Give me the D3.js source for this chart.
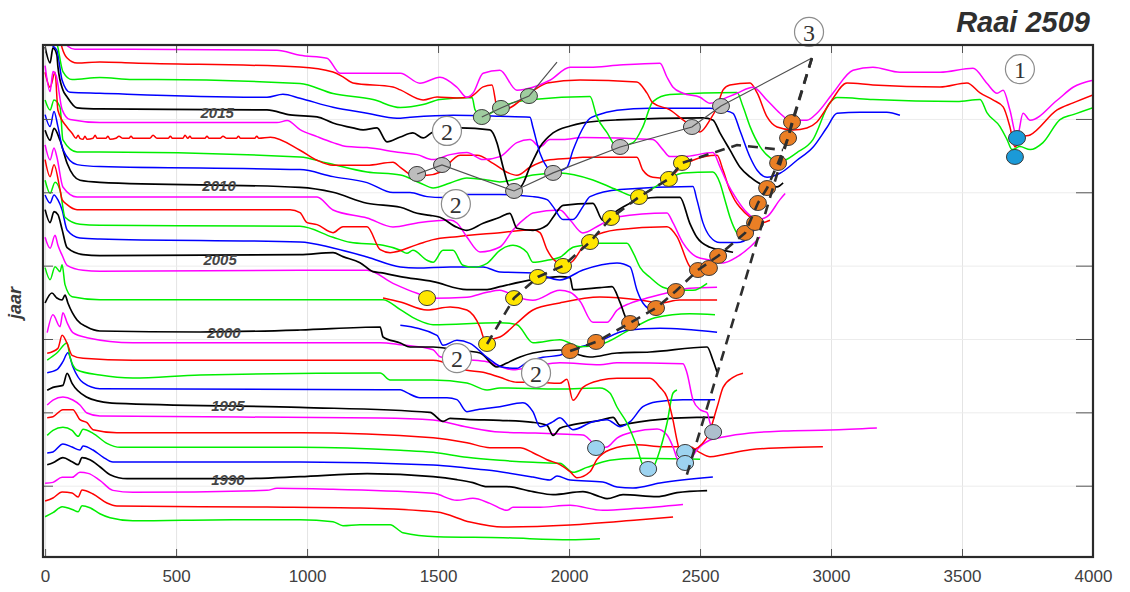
<!DOCTYPE html>
<html>
<head>
<meta charset="utf-8">
<script src="https://cdn.jsdelivr.net/npm/d3@7"></script>
<style>
  body { margin: 0; background: #fff; }
  svg { display: block; }
</style>
</head>
<body>
<svg id="chart" width="1130" height="592"></svg>
<script>
// Cross-shore profiles of transect 2509, one line per survey year.
// Each point: [distance along transect (m), relative bed level (m)].
const p2019 = [[0,28],[38,20],[65,12.5],[87,7],[114,5.5],[335,5.5],[885,5],[973,2.5],[1076,1],[1126,-6.5],[1229,-6.5],[1356,-6.5],[1431,-11.5],[1507,-8.5],[1572,-13.5],[1610,-18.5],[1633,-16.5],[1672,-6.5],[1736,-5],[1801,-15],[1862,-13.5],[1927,-10],[2004,-3.5],[2080,-3.5],[2183,-2.5],[2347,-1.5],[2374,-8.5],[2397,-13.5],[2435,-16.5],[2500,-18.5],[2538,-21.5],[2576,-20],[2641,-16.5],[2702,-13.5],[2756,-20],[2805,-26.5],[2843,-30],[2908,-30],[2946,-26.5],[3007,-16.5],[3084,-5],[3160,-3.5],[3263,-6],[3416,-6],[3542,-4],[3595,-11.5],[3634,-16.5],[3657,-15],[3683,-25],[3710,-38.5],[3733,-26.5],[3760,-30],[3863,-20],[3924,-13.5],[4000,-10]];
const p2018 = [[0,30],[49,22.5],[65,13.5],[84,8.5],[122,6],[209,6.5],[335,6],[973,4],[1099,1.5],[1137,-1],[1175,-4],[1328,-6],[1356,-7.5],[1443,-12.5],[1496,-11],[1572,-11.5],[1622,-11],[1672,-6],[1706,-5],[1725,-16],[1748,-17.5],[1851,-9],[1916,-4],[2042,-2.5],[2259,-3.5],[2297,-9],[2320,-14],[2385,-17.5],[2435,-22.5],[2461,-25],[2500,-28.5],[2538,-22.5],[2565,-16],[2588,-7.5],[2614,-5],[2691,-4],[2718,-9],[2756,-21],[2794,-26],[2855,-27.5],[2908,-26.5],[2946,-23.5],[2996,-14],[3061,-4],[3160,-5],[3416,-6],[3519,-4],[3569,-9],[3618,-12.5],[3657,-16],[3683,-26],[3702,-36],[3729,-31],[3760,-30],[3863,-17.5],[3924,-14],[4000,-10]];
const p2017 = [[0,32],[38,27.5],[49,21],[68,9],[103,5],[209,6],[335,5],[427,5],[973,3],[1099,-2],[1252,-5],[1356,-9],[1443,-7.5],[1507,-5],[1630,-4],[1641,-10],[1667,-13.5],[1725,-10],[1786,-6.5],[1862,-5],[2080,-3.5],[2106,-13.5],[2145,-21.5],[2183,-28.5],[2244,-26.5],[2282,-18.5],[2320,-6],[2385,-2.5],[2641,-1.5],[2664,-8.5],[2691,-18.5],[2729,-28.5],[2767,-34],[2805,-36],[2870,-31.5],[2931,-25],[2996,-6.5],[3023,-4],[3160,-5],[3481,-6],[3569,-5],[3595,-11.5],[3645,-18.5],[3672,-25],[3691,-30],[3721,-28.5],[3760,-30],[3809,-26.5],[3874,-15],[3924,-12.5],[4000,-9]];
const p2016 = [[0,32],[26,29.5],[45,27],[65,12],[95,6],[209,5.5],[847,3.5],[908,5],[973,3],[1099,-1.5],[1229,-4.5],[1343,-7],[1393,-6.5],[1557,-5.5],[1736,-6],[1851,-6.5],[1862,-11.5],[1889,-24.5],[1916,-31.5],[1939,-34],[1992,-31.5],[2015,-23],[2080,-7],[2106,-5.5],[2183,-3],[2309,-2],[2538,-2],[2588,-3],[2626,-4.5],[2652,-13],[2691,-26.5],[2718,-33],[2756,-36.5],[2805,-34.5],[2870,-28],[2931,-21.5],[2985,-11.5],[3023,-4.5],[3110,-4],[3213,-4],[3263,-5.5]];
const p2015 = [[0,36],[19,28],[30,35.5],[45,32],[49,26],[68,14.5],[84,11],[122,5.5],[209,5],[847,4.5],[935,2],[1038,1],[1099,-2],[1175,-4.5],[1214,-5.5],[1267,-4.5],[1305,-11.5],[1356,-9],[1404,-7],[1443,-9.5],[1481,-6.5],[1584,-4.5],[1698,-5.5],[1725,-12],[1748,-24],[1774,-34],[1813,-34],[1851,-24],[1889,-14],[1939,-7],[2004,-3.5],[2053,-2],[2183,-0.5],[2511,0.5],[2549,-0.5],[2576,-7],[2614,-15.5],[2652,-24],[2691,-29],[2740,-33],[2794,-34],[2817,-32]];
const p2014 = [[0,34],[19,21],[30,31],[42,29],[65,12],[95,7],[209,5.5],[885,5.5],[924,6.5],[973,2],[1038,-1.5],[1099,-4.5],[1152,-6.5],[1229,-7],[1356,-9.5],[1420,-10.5],[1481,-13],[1546,-10.5],[1610,-9.5],[1672,-13],[1736,-11.5],[1801,-4.5],[1851,-3],[1889,-6.5],[1927,-3],[1977,-3],[2053,-2],[2320,-3],[2358,-8],[2385,-11.5],[2435,-11.5],[2549,-9.5],[2576,-16.5],[2603,-24.5],[2641,-33],[2679,-39.5],[2718,-43],[2756,-41.5],[2805,-33],[2825,-30]];
const p2013 = [[0,38],[19,30.5],[38,38],[49,19],[84,10.5],[103,7.5],[118,5],[126,6.5],[133,5],[145,4.5],[152,6],[160,4.5],[183,5],[191,6.5],[198,5],[232,5],[240,6],[248,4.5],[270,5],[282,6],[297,5],[320,5],[328,6],[336,5],[400,5],[412,6.5],[427,5],[470,5],[478,6],[486,5],[526,5],[534,6.5],[545,5],[553,6],[560,5],[610,5],[618,6],[626,5],[668,5],[679,6],[694,5],[730,5],[738,6],[746,5],[800,5],[808,6],[816,5],[860,5.5],[973,-1],[1038,-6],[1099,-8.5],[1229,-8.5],[1328,-7],[1356,-9.5],[1404,-13.5],[1458,-13.5],[1507,-12],[1584,-3.5],[1649,-3.5],[1710,-7.5],[1763,-12],[1801,-13.5],[1851,-9.5],[1916,-6],[2004,-5],[2053,-4.5],[2259,-4.5],[2282,-11],[2320,-14.5],[2374,-15],[2435,-8.5],[2473,-6],[2565,-3.5],[2588,-11],[2614,-21],[2633,-26],[2652,-29.5],[2691,-34.5],[2729,-37.5],[2767,-36]];
const p2012 = [[0,31.5],[19,26.5],[34,31.5],[57,28],[68,11.5],[122,5.5],[209,5.5],[973,3],[1076,0],[1229,-4.5],[1356,-6],[1431,-10],[1481,-12.5],[1546,-10],[1610,-7.5],[1687,-8.5],[1736,-9.5],[1862,-6],[1965,-5],[2091,-8.5],[2183,-13.5],[2259,-17],[2309,-13.5],[2374,-8.5],[2435,-5],[2549,-4.5],[2576,-10],[2595,-18.5],[2614,-27],[2641,-35],[2660,-37]];
const p2011 = [[0,31.5],[19,25.5],[34,33],[49,25.5],[68,14],[122,6.5],[209,5.5],[973,4],[1099,0.5],[1229,-2.5],[1328,-7.5],[1393,-7.5],[1458,-9.5],[1519,-10],[1610,-8.5],[1736,-8.5],[1862,-9.5],[1916,-11],[1939,-14.5],[1977,-21],[2015,-21],[2053,-14.5],[2080,-9.5],[2195,-6],[2473,-4.5],[2488,-11],[2511,-22.5],[2538,-29.5],[2576,-32.5],[2641,-32.5],[2691,-29.5],[2710,-25]];
const p2010 = [[0,31],[19,26],[34,32],[57,26],[84,14.5],[133,6],[209,5],[973,2.5],[1099,0],[1229,-5.5],[1356,-7.5],[1420,-10.5],[1469,-11.5],[1507,-12.5],[1572,-17.5],[1610,-19],[1672,-15.5],[1736,-12.5],[1774,-10.5],[1801,-18],[1862,-19],[1916,-16.5],[1939,-12.5],[1977,-6.5],[2091,-5.5],[2129,-14],[2168,-10.5],[2233,-5.5],[2336,-2.5],[2423,-2.5],[2461,-15.5],[2488,-22.5],[2538,-27.5],[2588,-29],[2626,-30]];
const p2009 = [[0,31],[19,23.5],[34,29.5],[45,25],[68,10],[122,5],[209,5],[1038,5],[1099,-1.5],[1229,-5.5],[1328,-10],[1420,-8],[1546,-6.5],[1572,-8],[1610,-15],[1660,-22.5],[1736,-20],[1786,-11.5],[1839,-5],[1862,-3],[1965,-1.5],[2004,-6.5],[2053,-13],[2118,-9],[2183,-5],[2374,-3],[2397,-8],[2435,-18],[2488,-25],[2538,-26.5],[2588,-28],[2641,-25],[2691,-20],[2729,-15]];
const p2008 = [[0,31],[19,22.5],[34,28.5],[57,16],[65,11],[84,8.5],[122,6],[209,6],[935,6],[973,4.5],[1000,-0.5],[1038,-1.5],[1099,-5.5],[1137,-2.5],[1229,-2.5],[1279,-14],[1317,-15.5],[1420,-11.5],[1481,-9],[1572,-7.5],[1736,-5.5],[1862,-4],[1889,-5.5],[1916,-14],[1954,-20],[2004,-20.5],[2053,-12.5],[2091,-7.5],[2183,-4],[2374,-2.5],[2412,-7.5],[2461,-22.5],[2488,-25],[2519,-23]];
const p2007 = [[0,28],[19,21.5],[38,27],[57,23],[76,9.5],[133,6],[209,5.5],[973,5],[1099,-0.5],[1164,-3],[1290,-4.5],[1356,-7],[1381,-8.5],[1404,-7],[1458,-12],[1481,-13],[1519,-7],[1557,-7],[1595,-14.5],[1633,-15.5],[1687,-13.5],[1736,-7],[1786,-4.5],[1839,-8],[1862,-13],[1916,-12],[1965,-10.5],[2015,-5.5],[2053,-4.5],[2118,-3.5],[2221,-3.5],[2244,-8],[2271,-15.5],[2309,-20.5],[2358,-25.5],[2412,-27],[2473,-27],[2527,-23.5]];
const p2006 = [[0,28],[19,24],[34,28],[49,25.5],[65,20.5],[84,10.5],[133,6.5],[209,6],[973,4.5],[1099,1.5],[1229,-3],[1356,-8],[1420,-8.5],[1546,-8],[1672,-8],[1736,-10.5],[1862,-11],[1965,-14.5],[2053,-9.5],[2183,-6],[2233,-8],[2259,-19.5],[2282,-26],[2320,-29.5],[2347,-28.5]];
const p2005 = [[0,28],[19,21.5],[34,27],[49,25.5],[65,18],[84,9],[145,5.5],[209,5],[973,5.5],[1099,6.5],[1137,4.5],[1202,1.5],[1252,-3],[1279,-3.5],[1356,-5.5],[1481,-8],[1610,-12],[1687,-12],[1736,-10.5],[1862,-7],[1965,-5.5],[2004,-6],[2015,-12],[2118,-11],[2164,-10.5],[2195,-18.5],[2221,-27],[2244,-28.5],[2271,-29.5]];
const p2004 = [[0,21.5],[19,16],[38,22.5],[49,17.5],[65,12.5],[84,7.5],[145,5],[209,4.5],[973,5],[1229,5],[1328,-1.5],[1420,-6.5],[1481,-9],[1610,-8.5],[1687,-6],[1736,-5],[1801,-8.5],[1862,-10],[1965,-5],[2004,-6],[2042,-10.5],[2091,-21],[2145,-21],[2183,-15],[2233,-11.5],[2309,-8.5],[2385,-6],[2461,-4],[2565,-3.5]];
const p2003 = [[1290,-1.5],[1356,-3.5],[1458,-7.5],[1546,-6],[1610,-7.5],[1660,-16],[1679,-22.5],[1736,-21],[1801,-14],[1862,-7.5],[1965,-4],[2118,-1],[2271,-2.5],[2347,-4],[2423,-2.5],[2565,-2.5]];
const p2002 = [[0,21],[19,15],[38,21.5],[57,19],[65,22.5],[76,12.5],[103,6.5],[209,5],[1290,5],[1356,0],[1420,-5],[1481,-7.5],[1736,-6.5],[1801,-7.5],[1862,-16.5],[1965,-15],[2042,-18.5],[2118,-17.5],[2233,-10],[2328,-4],[2461,-2],[2557,-2.5]];
const p2001 = [[1356,-0.5],[1496,-5.5],[1519,-10.5],[1572,-8],[1622,-9.5],[1687,-16.5],[1748,-21.5],[1801,-22],[1839,-19],[1900,-16.5],[1965,-15.5],[2004,-13],[2106,-9],[2221,-3],[2347,-2],[2565,-4]];
const p2000 = [[0,18],[26,23],[45,20.5],[65,19.5],[76,22],[87,18],[122,9.5],[160,6],[209,4],[592,3.5],[973,4.5],[1279,6],[1290,1],[1356,-2],[1393,-4],[1481,-4],[1572,-5.5],[1660,-7],[1725,-14],[1763,-12],[1813,-9],[1862,-7],[1965,-5.5],[2080,-9],[2183,-7],[2309,-6.5],[2527,-4],[2549,-10.5],[2565,-16.5]];
const p1999 = [[8,10.5],[30,19.5],[57,13.5],[68,20.5],[84,15.5],[106,10.5],[160,8],[335,5.5],[1279,5.5],[1356,4.5],[1481,2],[1507,-1.5],[1610,-3],[1687,-4],[1786,-8],[1862,-6.5],[1965,-4.5],[2118,-5.5],[2183,-4.5],[2435,-5],[2450,-9.5],[2473,-23],[2500,-28],[2527,-29.5],[2538,-34.5],[2549,-38]];
const p1998 = [[8,7.5],[49,10],[65,16.5],[84,12.5],[103,6.5],[145,5],[335,4],[1481,4],[1610,-1],[1672,-2],[1736,-4.5],[1801,-7],[1862,-7],[1965,-7.5],[1992,-5.5],[2015,-16],[2053,-9.5],[2118,-6],[2183,-5],[2309,-5],[2347,-9.5],[2374,-14.5],[2397,-26],[2412,-36],[2423,-41],[2461,-41],[2527,-34.5],[2565,-19.5],[2588,-9.5],[2626,-4.5],[2664,-2.5]];
const p1997 = [[8,11.5],[45,15],[84,20],[95,13],[122,6.5],[209,4],[335,2.5],[592,4],[1279,5],[1317,1.5],[1481,1.5],[1610,0],[1687,-3.5],[1736,-2.5],[1965,-3],[2118,-2.5],[2156,-5],[2183,-12],[2221,-20],[2259,-32],[2282,-41],[2302,-42.5],[2320,-42],[2347,-33.5],[2374,-20],[2397,-5],[2412,-3.5]];
const p1996 = [[8,12.5],[45,14],[68,18],[87,22.5],[106,15.5],[145,7.5],[209,4.5],[1279,4],[1356,4],[1381,2.5],[1431,0],[1534,0],[1572,-1],[1610,-7],[1649,-6],[1736,-4.5],[1824,-2.5],[1862,-7],[1889,-14.5],[1939,-12],[1965,-10],[2015,-16],[2091,-12],[2145,-11],[2195,-14.5],[2233,-12],[2282,-4.5],[2336,-2],[2435,-1],[2557,-1]];
const p1995 = [[8,11],[30,12.5],[68,13.5],[84,19.5],[103,14.5],[160,7.5],[209,5.5],[274,4.5],[973,2.5],[1469,0],[1519,-4.5],[1546,-3],[1610,-3.5],[1736,-4],[1862,-5],[1916,-6.5],[1939,-11.5],[1965,-8],[2004,-6.5],[2118,-4],[2168,-2.5],[2195,-6.5],[2233,-5.5],[2309,-4],[2488,-2.5],[2557,-2.5]];
const p1994 = [[8,11],[30,13.5],[68,15],[106,13.5],[133,11],[160,7],[209,5.5],[1279,4.5],[1481,3.5],[1610,0],[1736,-2.5],[1862,-3],[1965,-3.5],[2053,-4],[2080,-6.5],[2106,-10.5],[2145,-10],[2183,-5.5],[2244,-2.5],[2336,-1],[2374,-4],[2397,-10],[2416,-16.5],[2443,-18],[2461,-16.5],[2488,-11.5],[2538,-6.5],[2588,-5],[2691,-3],[2817,-2],[2996,-1.5],[3175,-0.5]];
const p1993 = [[8,12],[30,12.5],[68,16],[106,16],[133,11],[160,9.5],[183,6],[274,4.5],[973,4.5],[1481,2],[1610,-0.5],[1698,-3],[1813,-3],[1862,-5.5],[1916,-9],[1965,-11.5],[2004,-15],[2030,-18],[2080,-15],[2106,-9],[2156,-4],[2259,-1.5],[2358,-2.5],[2461,-2.5],[2500,-5.5],[2538,-7.5],[2588,-6.5],[2691,-4],[2817,-3],[2969,-2.5]];
const p1992 = [[8,10.5],[30,13],[68,14.5],[103,13],[126,10],[145,13.5],[183,11.5],[236,6.5],[286,4.5],[973,4.5],[1356,3],[1481,2],[1610,-0.5],[1736,-2],[1862,-3],[1965,-3.5],[2015,-8],[2068,-5.5],[2156,-2],[2259,-1],[2500,-1.5]];
const p1991 = [[8,9],[30,9.5],[68,13.5],[103,12],[133,10.5],[145,12.5],[183,10.5],[221,7],[259,4.5],[973,4.5],[1481,3],[1610,1.5],[1687,0.5],[1862,-3],[1927,-4.5],[1954,-2.5],[2004,-4.5],[2129,-5.5],[2183,-8],[2244,-8.5],[2347,-6],[2549,-3]];
const p1990 = [[8,10.5],[30,11.5],[68,14],[103,12],[126,10.5],[141,14],[171,13],[209,9.5],[248,5.5],[313,3.5],[718,3.5],[973,4.5],[1229,6],[1481,4.5],[1572,3],[1633,1.5],[1687,-0.5],[1763,-0.5],[1862,-3],[1939,-4.5],[2053,-3],[2118,-5.5],[2145,-6.5],[2206,-4.5],[2336,-5.5],[2412,-3.5],[2527,-2.5]];
const p1989 = [[0,8.5],[30,9],[65,11.5],[103,11.5],[133,14],[164,13.5],[209,10],[259,5],[335,4],[847,5],[885,6],[1099,5.5],[1481,3.5],[1572,0],[1633,1],[1698,-1.5],[1763,-5],[1786,-3.5],[1878,-3.5],[2004,-2.5],[2129,-5],[2259,-4],[2435,-2]];
const p1988 = [[0,7],[30,8.5],[65,11.5],[103,11],[126,9],[141,12.5],[183,10.5],[236,6],[274,4.5],[847,4],[1202,3.5],[1496,1.5],[1622,-3.5],[1748,-6],[2004,-5],[2259,-2.5],[2397,-1]];
const p1987 = [[0,6.5],[30,8.5],[65,11.5],[84,11],[106,10],[126,9],[141,12],[171,11],[209,8],[248,6],[335,4.5],[718,5],[973,5],[1099,4],[1137,2],[1202,2.5],[1317,2.5],[1366,-1.5],[1496,-3.5],[1748,-4],[2004,-5],[2118,-4.5]];

// Marker positions: [distance (m), level on the year axis]
const orangeDots = [[2004,1999.18],[2103,1999.80],[2233,2001.09],[2332,2002.11],[2408,2003.27],[2492,2004.70],[2534,2004.84],[2569,2005.66],[2672,2007.23],[2710,2007.91],[2721,2009.27],[2756,2010.29],[2798,2012.00],[2836,2013.70],[2851,2014.79]];
const yellowDots = [[1458,2002.79],[1687,1999.66],[1790,2002.79],[1881,2004.23],[1977,2004.98],[2080,2006.61],[2160,2008.25],[2267,2009.68],[2381,2010.91],[2431,2012.00]];
const greyDots = [[1420,2011.25],[1515,2011.86],[1790,2010.09],[1939,2011.32],[2195,2013.09],[2469,2014.45],[2580,2015.88]];
const greenDots = [[1667,2015.13],[1740,2015.75],[1847,2016.56]];
const lightBlueDots = [[2103,1992.57],[2302,1991.14],[2443,1992.30],[2443,1991.55]];
const slateDots = [[2550,1993.66]];
const blueDots = [[3710,2013.70],[3702,2012.41]];

// Trend lines through the markers
const greyTrend = [[1420,2011.25],[1515,2011.86],[1790,2010.09],[1939,2011.32],[2195,2013.09],[2469,2014.45],[2580,2015.88],[2927,2019.15]];
const greenTrend = [[1667,2015.13],[1740,2015.75],[1847,2016.56],[1954,2018.88]];
const orangeTrend = [[2004,1999.18],[2103,1999.80],[2233,2001.09],[2332,2002.11],[2408,2003.27],[2492,2004.70],[2569,2005.66],[2672,2007.23],[2721,2009.27],[2756,2010.29],[2798,2012.00],[2836,2013.70],[2851,2014.79],[2927,2019.15]];
const yellowTrend = [[1687,1999.66],[1790,2002.79],[1881,2004.23],[1977,2004.98],[2080,2006.61],[2160,2008.25],[2267,2009.68],[2381,2010.91],[2431,2012.00],[2641,2013.22],[2817,2012.88]];
const steepTrend = [[2927,2019.15],[2446,1990.52]];

// Circled annotation numbers: [label, distance, level]
const circleNotes = [["2",1534,2014.18],["2",1568,2009.20],["2",1572,1998.70],["2",1874,1997.68],["3",2916,2020.93],["1",3721,2018.40]];

// Year labels written on the black profiles: [year, distance]
const yearLabels = [[2015,657],[2010,664],[2005,668],[2000,683],[1995,698],[1990,698]];

const xTicks = [0,500,1000,1500,2000,2500,3000,3500,4000];
const yTicks = [1990,1995,2000,2005,2010,2015];

const profiles = [
  [1987,p1987],[1988,p1988],[1989,p1989],[1990,p1990],[1991,p1991],[1992,p1992],[1993,p1993],
  [1994,p1994],[1995,p1995],[1996,p1996],[1997,p1997],[1998,p1998],[1999,p1999],[2000,p2000],
  [2001,p2001],[2002,p2002],[2003,p2003],[2004,p2004],[2005,p2005],[2006,p2006],[2007,p2007],
  [2008,p2008],[2009,p2009],[2010,p2010],[2011,p2011],[2012,p2012],[2013,p2013],[2014,p2014],
  [2015,p2015],[2016,p2016],[2017,p2017],[2018,p2018],[2019,p2019]
];

// ---- layout ----
const plot = {left: 43, right: 1093, top: 45, bottom: 557};
const metersPerYear = 7.335; // vertical exaggeration between stacked profiles
const yearColors = ["#000000", "#0000ff", "#00ee00", "#ff0000", "#ff00ff"];

const x = d3.scaleLinear().domain([-8, 4000]).range([plot.left, plot.right]);
const y = d3.scaleLinear().domain([1985.14, 2020.04]).range([plot.bottom, plot.top]);

const svg = d3.select("#chart");
svg.append("defs").append("clipPath").attr("id", "plotClip")
  .append("rect")
  .attr("x", plot.left).attr("y", plot.top)
  .attr("width", plot.right - plot.left).attr("height", plot.bottom - plot.top);

// grid
const gxGrid = svg.append("g")
  .attr("transform", `translate(0,${plot.bottom})`)
  .call(d3.axisBottom(x).tickValues(xTicks).tickSize(-(plot.bottom - plot.top)).tickFormat(""));
gxGrid.select(".domain").remove();
gxGrid.selectAll("line").attr("stroke", "#e4e4e4").attr("stroke-width", 1);

const gyGrid = svg.append("g")
  .attr("transform", `translate(${plot.left},0)`)
  .call(d3.axisLeft(y).tickValues(yTicks).tickSize(-(plot.right - plot.left)).tickFormat(""));
gyGrid.select(".domain").remove();
gyGrid.selectAll("line").attr("stroke", "#ececec").attr("stroke-width", 1);

// profiles
const profileLayer = svg.append("g").attr("clip-path", "url(#plotClip)");
profiles.forEach(([yr, pts]) => {
  const line = d3.line()
    .x(p => x(p[0]))
    .y(p => y(yr + p[1] / metersPerYear))
    .curve(d3.curveMonotoneX);
  profileLayer.append("path")
    .datum(pts)
    .attr("fill", "none")
    .attr("stroke", yearColors[yr % 5])
    .attr("stroke-width", yr % 5 === 0 ? 1.7 : 1.5)
    .attr("stroke-linejoin", "round")
    .attr("d", line);
});

// year labels
svg.append("g").selectAll("text")
  .data(yearLabels)
  .join("text")
  .attr("x", d => x(d[1]))
  .attr("y", d => y(d[0] + 0.45))
  .attr("text-anchor", "middle")
  .attr("dominant-baseline", "central")
  .attr("font-family", "'Liberation Sans', Arial, sans-serif")
  .attr("font-size", 15)
  .attr("font-weight", "bold")
  .attr("font-style", "italic")
  .attr("fill", "#454545")
  .text(d => d[0]);

// trend lines
const trendLine = d3.line().x(p => x(p[0])).y(p => y(p[1]));
const trends = svg.append("g");
[greyTrend, greenTrend].forEach(t => {
  trends.append("path").datum(t).attr("fill", "none")
    .attr("stroke", "#505050").attr("stroke-width", 1.2).attr("d", trendLine);
});

// markers
const markers = svg.append("g");
function dots(data, fill) {
  markers.append("g").selectAll("ellipse")
    .data(data)
    .join("ellipse")
    .attr("cx", d => x(d[0]))
    .attr("cy", d => y(d[1]))
    .attr("rx", 8.5).attr("ry", 7.5)
    .attr("fill", fill)
    .attr("stroke", "#3a3a3a")
    .attr("stroke-width", 1);
}
dots(greyDots, "#bdbdbd");
dots(greenDots, "#9fcc9f");
dots(yellowDots, "#ffe600");
dots(orangeDots, "#ea7f25");
dots(lightBlueDots, "#9dd3f0");
dots(slateDots, "#adbfcd");
dots(blueDots, "#1b9ad8");

// dashed trend lines
[orangeTrend, yellowTrend, steepTrend].forEach(t => {
  trends.append("path").datum(t).attr("fill", "none")
    .attr("stroke", "#2e2e2e").attr("stroke-width", 2.6)
    .attr("stroke-dasharray", "10,7").attr("d", trendLine);
});
svg.node().appendChild(trends.node());

// circled numbers
const notes = svg.append("g").selectAll("g")
  .data(circleNotes)
  .join("g")
  .attr("transform", d => `translate(${x(d[1])},${y(d[2])})`);
notes.append("circle").attr("r", 14.5)
  .attr("fill", "#ffffff").attr("stroke", "#8c8c8c").attr("stroke-width", 1.2);
notes.append("text")
  .attr("text-anchor", "middle").attr("dy", "0.36em")
  .attr("font-family", "'Liberation Serif', 'Times New Roman', serif")
  .attr("font-size", 24).attr("fill", "#333")
  .text(d => d[0]);

// ticks
const tickColor = "#555";
const topTicks = svg.append("g").attr("transform", `translate(0,${plot.top})`)
  .call(d3.axisBottom(x).tickValues(xTicks).tickSize(8).tickFormat(""));
const botTicks = svg.append("g").attr("transform", `translate(0,${plot.bottom})`)
  .call(d3.axisTop(x).tickValues(xTicks).tickSize(8).tickFormat(""));
const rightTicks = svg.append("g").attr("transform", `translate(${plot.right},0)`)
  .call(d3.axisLeft(y).tickValues(yTicks).tickSize(17).tickFormat(""));
const leftTicks = svg.append("g").attr("transform", `translate(${plot.left},0)`)
  .call(d3.axisRight(y).tickValues(yTicks).tickSize(10).tickFormat(""));
[topTicks, botTicks, rightTicks, leftTicks].forEach(g => {
  g.select(".domain").remove();
  g.selectAll("line").attr("stroke", tickColor).attr("stroke-width", 1);
});

// x tick labels
const xLabels = svg.append("g").attr("transform", `translate(0,${plot.bottom})`)
  .call(d3.axisBottom(x).tickValues(xTicks).tickSize(0).tickPadding(13).tickFormat(d3.format("d")));
xLabels.select(".domain").remove();
xLabels.selectAll("text")
  .attr("font-family", "'Liberation Sans', Arial, sans-serif")
  .attr("font-size", 17)
  .attr("fill", "#404040");

// frame
svg.append("rect")
  .attr("x", plot.left).attr("y", plot.top)
  .attr("width", plot.right - plot.left).attr("height", plot.bottom - plot.top)
  .attr("fill", "none").attr("stroke", "#2a2a2a").attr("stroke-width", 2.2);

// axis title
svg.append("text")
  .attr("transform", "translate(21,303) rotate(-90)")
  .attr("text-anchor", "middle")
  .attr("font-family", "'Liberation Sans', Arial, sans-serif")
  .attr("font-size", 18)
  .attr("font-weight", "bold")
  .attr("font-style", "italic")
  .attr("fill", "#3a3a3a")
  .text("jaar");

// title
svg.append("text")
  .attr("x", 1090).attr("y", 32)
  .attr("text-anchor", "end")
  .attr("font-family", "'Liberation Sans', Arial, sans-serif")
  .attr("font-size", 29)
  .attr("font-weight", "bold")
  .attr("font-style", "italic")
  .attr("fill", "#2f2f2f")
  .text("Raai 2509");
</script>
</body>
</html>
